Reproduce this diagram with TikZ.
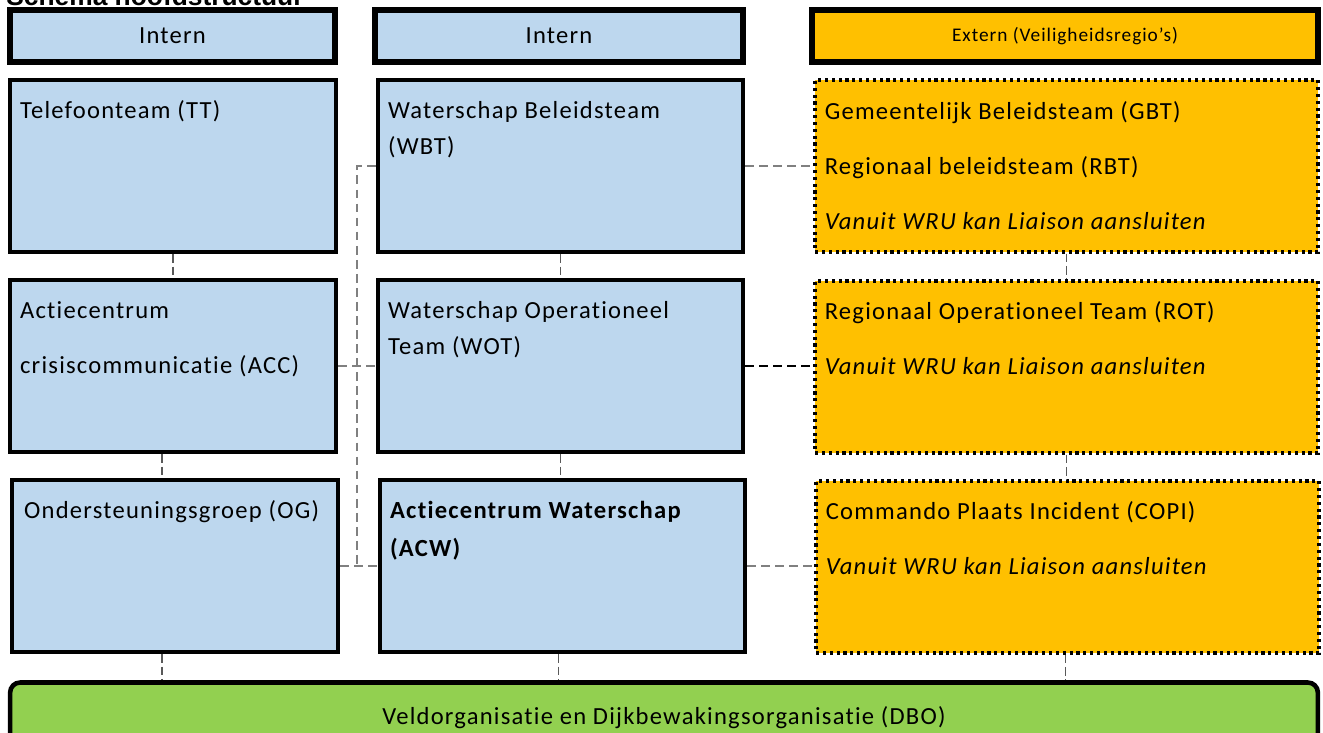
\documentclass[tikz,border=0pt]{standalone}
\usepackage{fontspec}
\setmainfont{Carlito}[LetterSpace=5,Ligatures=NoCommon]
\newfontfamily\titlefont{Liberation Sans}
\usetikzlibrary{positioning,calc}
\definecolor{lightblue}{HTML}{BDD7EE}
\definecolor{amber}{HTML}{FFC000}
\definecolor{leaf}{HTML}{92D050}
\definecolor{linegray}{HTML}{808080}

\begin{document}
\begin{tikzpicture}[x=0.02cm,y=-0.02cm,
  head/.style={rectangle,draw=black,line width=3pt,minimum height=1.04cm,
               font=\fontsize{14}{17}\selectfont},
  intbox/.style={rectangle,draw=black,line width=2.6pt,fill=lightblue,
                 minimum height=3.44cm},
  extbox/.style={rectangle,draw=black,fill=amber,line width=1.8pt,
                 dash pattern=on 1.8pt off 2.1pt,minimum height=3.44cm,
                 minimum width=10.06cm},
  txt/.style={anchor=base west,inner sep=0pt,font=\fontsize{14}{17}\selectfont},
  vlink/.style={draw=black!65,line width=1pt,dash pattern=on 5pt off 2pt},
  link/.style={draw=linegray,line width=1.1pt,dash pattern=on 5pt off 3pt},
  thinlink/.style={draw=black,line width=0.7pt,dash pattern=on 5pt off 3pt}
]
  \useasboundingbox (0,0) rectangle (1323,733);

  \node[anchor=base west,inner sep=0pt,font=\titlefont\bfseries\fontsize{15}{18}\selectfont]
    (title) at (6,6) {Schema hoofdstructuur};

  % kolomkoppen
  \node[head,fill=lightblue,minimum width=6.5cm]  (h-int1) at (172.5,36) {Intern};
  \node[head,fill=lightblue,minimum width=7.36cm] (h-int2) at (559,36)   {Intern};
  \node[head,fill=amber,minimum width=10.12cm,font=\fontsize{11}{13}\selectfont]
    (h-ext) at (1065,36) {Extern (Veiligheidsregio's)};

  % intern
  \node[intbox,minimum width=6.52cm] (tt)  at (173,166) {};
  \node[intbox,minimum width=6.52cm] (acc) at (173,366) {};
  \node[intbox,minimum width=6.52cm] (og)  at (175,566) {};
  \node[intbox,minimum width=7.3cm]  (wbt) at (560.5,166) {};
  \node[intbox,minimum width=7.3cm]  (wot) at (560.5,366) {};
  \node[intbox,minimum width=7.3cm]  (acw) at (562.5,566) {};

  % extern
  \node[extbox] (gbt)  at (1066.5,166) {};
  \node[extbox] (rot)  at (1066.5,367) {};
  \node[extbox] (copi) at (1067.5,567) {};

  \node[rectangle,rounded corners=0.2cm,draw=black,line width=2.6pt,fill=leaf,
        minimum width=26.16cm,minimum height=1.9cm] (dbo) at (664,730) {};

  % teksten
  \node[txt] (tt-t)   at ($(tt.north west)+(12,41)$) {Telefoonteam (TT)};
  \node[txt] (acc-t)  at ($(acc.north west)+(12,41)$) {Actiecentrum};
  \node[txt] (acc-t2) at ($(acc-t.base west)+(0,55)$) {crisiscommunicatie (ACC)};
  \node[txt] (og-t)   at ($(og.north west)+(14,41)$) {Ondersteuningsgroep (OG)};
  \node[txt] (wbt-t)  at ($(wbt.north west)+(12,41)$) {Waterschap Beleidsteam};
  \node[txt] (wbt-t2) at ($(wbt-t.base west)+(0,36)$) {(WBT)};
  \node[txt] (wot-t)  at ($(wot.north west)+(12,41)$) {Waterschap Operationeel};
  \node[txt] (wot-t2) at ($(wot-t.base west)+(0,36)$) {Team (WOT)};
  \node[txt,font=\fontsize{14}{17}\selectfont\bfseries] (acw-t)  at ($(acw.north west)+(12,41)$) {Actiecentrum Waterschap};
  \node[txt,font=\fontsize{14}{17}\selectfont\bfseries] (acw-t2) at ($(acw-t.base west)+(0,38)$) {(ACW)};
  \node[txt] (gbt-t)  at ($(gbt.north west)+(11,41)$) {Gemeentelijk Beleidsteam (GBT)};
  \node[txt] (gbt-t2) at ($(gbt-t.base west)+(0,55)$) {Regionaal beleidsteam (RBT)};
  \node[txt,font=\fontsize{14}{17}\selectfont\itshape] (gbt-t3) at ($(gbt-t2.base west)+(0,55)$) {Vanuit WRU kan Liaison aansluiten};
  \node[txt] (rot-t)  at ($(rot.north west)+(11,40)$) {Regionaal Operationeel Team (ROT)};
  \node[txt,font=\fontsize{14}{17}\selectfont\itshape] (rot-t2) at ($(rot-t.base west)+(0,55)$) {Vanuit WRU kan Liaison aansluiten};
  \node[txt] (copi-t) at ($(copi.north west)+(11,40)$) {Commando Plaats Incident (COPI)};
  \node[txt,font=\fontsize{14}{17}\selectfont\itshape] (copi-t2) at ($(copi-t.base west)+(0,55)$) {Vanuit WRU kan Liaison aansluiten};
  \node[font=\fontsize{14}{17}\selectfont] (dbo-t) at (664,718)
    {Veldorganisatie en Dijkbewakingsorganisatie (DBO)};

  % verbindingen
  \draw[vlink] (tt.south) -- (acc.north);
  \draw[vlink] ([xshift=-0.22cm]acc.south) -- ([xshift=-0.22cm]acc.south |- og.north);
  \draw[vlink] ([xshift=-0.26cm]og.south) -- ([xshift=-0.26cm]og.south |- dbo.north);
  \draw[vlink] (wbt.south) -- (wot.north);
  \draw[vlink] (wot.south) -- (wot.south |- acw.north);
  \draw[vlink] ([xshift=-0.08cm]acw.south) -- ([xshift=-0.08cm]acw.south |- dbo.north);
  \draw[vlink] (gbt.south) -- (rot.north);
  \draw[vlink] (rot.south) -- (rot.south |- copi.north);
  \draw[vlink] ([xshift=-0.04cm]copi.south) -- ([xshift=-0.04cm]copi.south |- dbo.north);

  \draw[link] (wbt.east) -- (wbt.east -| gbt.west);
  \draw[thinlink] (wot.east) -- (wot.east -| rot.west);
  \draw[link] (acw.east) -- (acw.east -| copi.west);
  \draw[link] (acc.east) -- (wot.west);

  \coordinate (jn) at ($(og.east)!0.45!(acw.west)$);
  \draw[link] (wbt.west) -| (jn);
  \draw[link] (og.east) -- (acw.west);
\end{tikzpicture}
\end{document}
